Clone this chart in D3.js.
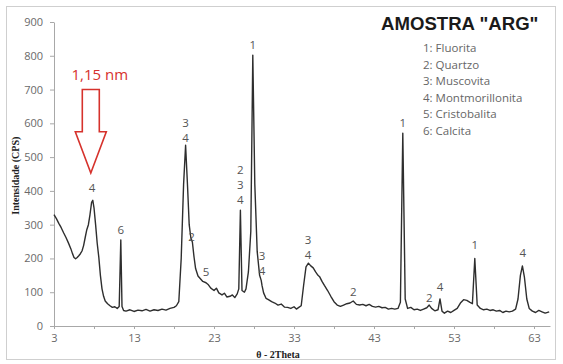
<!DOCTYPE html>
<html>
<head>
<meta charset="utf-8">
<script src="https://cdnjs.cloudflare.com/ajax/libs/d3/7.8.5/d3.min.js"></script>
<style>
    body { margin: 0; background: #fff; }
    svg { display: block; }
    .axis path, .axis line { stroke: #a8a8a8; }
    .axis text { fill: #6a6a6a; font-family: "Open Sans", sans-serif; font-size: 11px; }
    .trace { fill: none; stroke: #2e2e2e; stroke-width: 1.4; stroke-linejoin: round; }
    .peak { fill: #555; font-family: "Open Sans", sans-serif; font-size: 11.5px; text-anchor: middle; }
    .legend { fill: #666; font-family: "Open Sans", sans-serif; font-size: 11.5px; }
    .title { fill: #1a1a1a; font-family: "Liberation Sans", Arial, sans-serif; font-weight: bold; font-size: 18.6px; }
    .axis-title { fill: #222; font-family: "Liberation Serif", serif; font-weight: bold; font-size: 10px; }
</style>
</head>
<body>
<svg id="chart" width="563" height="364"></svg>
<script>
// difractograma - 2theta (graus) e intensidade (CPS)
var twoTheta = [
    3.0, 3.3, 3.6, 3.9, 4.2, 4.5, 4.8, 5.1, 5.3, 5.5, 5.7, 5.9, 6.1, 6.3, 6.5, 6.7, 6.9, 7.1, 7.3, 7.5,
    7.7, 7.85, 8.0, 8.2, 8.4, 8.6, 8.8, 9.0, 9.2, 9.4, 9.7, 10.0, 10.3, 10.6, 10.9, 11.15, 11.35, 11.5, 11.7, 12.0,
    12.5, 13.0, 13.5, 14.0, 14.5, 15.0, 15.5, 16.0, 16.5, 17.0, 17.5, 18.0, 18.3, 18.6, 18.9, 19.2, 19.45, 19.7, 19.9, 20.1,
    20.3, 20.5, 20.7, 21.0, 21.3, 21.6, 22.0, 22.3, 22.6, 23.0, 23.3, 23.6, 24.0, 24.3, 24.6, 25.0, 25.3, 25.6, 25.9, 26.1,
    26.3, 26.5, 26.8, 27.0, 27.3, 27.6, 27.85, 28.1, 28.4, 28.7, 28.9, 29.0, 29.2, 29.5, 29.8, 30.2, 30.6, 31.0, 31.4, 31.8,
    32.2, 32.6, 33.0, 33.3, 33.6, 33.9, 34.2, 34.5, 34.8, 35.1, 35.4, 35.7, 36.0, 36.2, 36.5, 36.8, 37.2, 37.6, 38.0, 38.4,
    38.8, 39.2, 39.6, 40.0, 40.4, 40.8, 41.2, 41.6, 42.0, 42.4, 42.8, 43.2, 43.6, 44.0, 44.4, 44.8, 45.2, 45.6, 46.0, 46.3,
    46.6, 46.9, 47.2, 47.6, 48.0, 48.4, 48.8, 49.2, 49.6, 49.9, 50.2, 50.6, 51.0, 51.25, 51.5, 51.8, 52.2, 52.6, 53.0, 53.4,
    53.8, 54.2, 54.6, 55.0, 55.3, 55.6, 55.9, 56.3, 56.7, 57.1, 57.5, 57.9, 58.3, 58.7, 59.1, 59.5, 59.9, 60.3, 60.7, 61.0,
    61.3, 61.55, 61.8, 62.1, 62.4, 62.8, 63.2, 63.6, 64.0, 64.4, 64.9
];

var intensity = [
    330, 318, 304, 291, 276, 262, 246, 229, 215, 203, 199, 203, 208, 214, 222, 238, 262, 285, 300, 330,
    366, 372, 350, 300, 245, 204, 150, 110, 88, 74, 66, 60, 55, 57, 52, 58, 255, 58, 46, 44,
    48, 43, 47, 45, 49, 44, 48, 46, 50, 47, 52, 55, 60, 72, 200, 420, 535, 410, 300, 262,
    248, 205, 170, 148, 140, 132, 128, 122, 112, 105, 112, 98, 92, 97, 86, 88, 92, 84, 95, 110,
    343, 105, 100, 110, 160, 280, 802, 420, 220, 150, 135, 120, 98, 82, 78, 72, 68, 62, 65, 56,
    55, 52, 57, 50, 55, 60, 120, 175, 186, 178, 172, 160, 150, 146, 132, 120, 105, 88, 72, 62,
    58, 62, 66, 68, 74, 64, 62, 64, 60, 64, 58, 56, 58, 54, 55, 50, 52, 50, 52, 70,
    571, 80, 52, 55, 48, 50, 46, 50, 54, 62, 52, 45, 48, 80, 44, 38, 44, 40, 46, 52,
    68, 78, 76, 70, 66, 200, 62, 52, 48, 50, 46, 48, 44, 46, 40, 44, 42, 44, 50, 80,
    150, 178, 145, 80, 52, 44, 40, 46, 42, 38, 42
];

// rótulos das fases sobre os picos
var labelTheta = [7.75, 11.35, 19.45, 20.2, 22.0, 26.3, 27.85, 29.0, 34.75, 40.4, 46.6, 49.9, 51.25, 55.6, 61.6];
var labelIntensity = [408, 284, 556, 263, 160, 373, 832, 163, 210, 101, 601, 83, 115, 240, 216];
var labelText = ["4", "6", "3\n4", "2", "5", "2\n3\n4", "1", "3\n4", "3\n4", "2", "1", "2", "4", "1", "4"];

var legendItems = ["1: Fluorita", "2: Quartzo", "3: Muscovita", "4: Montmorillonita", "5: Cristobalita", "6: Calcita"];

var xTicks = [3, 8, 13, 18, 23, 28, 33, 38, 43, 48, 53, 58, 63];
var xTickLabels = [3, 13, 23, 33, 43, 53, 63];
var yTicks = [0, 100, 200, 300, 400, 500, 600, 700, 800, 900];

var arrowTheta = 7.6
    , arrowTop = 700
    , arrowNeck = 575
    , arrowTip = 453
    , arrowText = "1,15 nm"
    ;

var svg = d3.select("#chart")
    , x = d3.scaleLinear().domain([3, 65]).range([54, 550])
    , y = d3.scaleLinear().domain([0, 900]).range([326, 22])
    ;

svg.append("rect")
    .attr("x", 6.5)
    .attr("y", 6.5)
    .attr("width", 549)
    .attr("height", 353)
    .attr("fill", "#fff")
    .attr("stroke", "#cfcfcf");

svg.append("g")
    .attr("class", "axis axis--x")
    .attr("transform", "translate(0," + y(0) + ")")
    .call(d3.axisBottom(x)
        .tickValues(xTicks)
        .tickSizeInner(3)
        .tickSizeOuter(0)
        .tickPadding(5)
        .tickFormat(function(d) { return xTickLabels.indexOf(d) >= 0 ? d : ""; }));

svg.append("g")
    .attr("class", "axis axis--y")
    .attr("transform", "translate(" + x(3) + ",0)")
    .call(d3.axisLeft(y)
        .tickValues(yTicks)
        .tickSizeInner(4)
        .tickSizeOuter(0)
        .tickPadding(7));

var points = twoTheta.map(function(t, i) { return [t, intensity[i]]; });

var line = d3.line()
    .x(function(d) { return x(d[0]); })
    .y(function(d) { return y(d[1]); });

svg.append("path")
    .attr("class", "trace")
    .attr("d", line(points));

// numeros sobre os picos, empilhados de baixo para cima
labelTheta.forEach(function(t, i) {
    var lines = labelText[i].split("\n");
    lines.forEach(function(s, j) {
        svg.append("text")
            .attr("class", "peak")
            .attr("x", x(t))
            .attr("y", y(labelIntensity[i]) + 4 - (lines.length - 1 - j) * 15)
            .text(s);
    });
});

svg.append("text")
    .attr("class", "title")
    .attr("x", 381)
    .attr("y", 30)
    .text('AMOSTRA "ARG"');

svg.append("g")
    .selectAll("text")
    .data(legendItems)
    .join("text")
    .attr("class", "legend")
    .attr("x", 423)
    .attr("y", function(d, i) { return 52 + i * 16.5; })
    .text(function(d) { return d; });

// seta vermelha com a distancia basal
var ax = x(arrowTheta);
svg.append("path")
    .attr("d", "M" + (ax - 8.5) + "," + y(arrowTop)
        + "H" + (ax + 8.5)
        + "V" + y(arrowNeck)
        + "H" + (ax + 15.5)
        + "L" + ax + "," + y(arrowTip)
        + "L" + (ax - 15.5) + "," + y(arrowNeck)
        + "H" + (ax - 8.5) + "Z")
    .attr("fill", "none")
    .attr("stroke", "#d6322c")
    .attr("stroke-width", 1.6);

svg.append("text")
    .attr("x", ax + 9)
    .attr("y", y(arrowTop) - 10)
    .attr("text-anchor", "middle")
    .attr("fill", "#d6322c")
    .style("font-family", "'Open Sans', sans-serif")
    .style("font-size", "15px")
    .text(arrowText);

svg.append("text")
    .attr("class", "axis-title")
    .attr("transform", "translate(19," + y(445) + ") rotate(-90)")
    .attr("text-anchor", "middle")
    .text("Intensidade (CPS)");

svg.append("text")
    .attr("class", "axis-title")
    .attr("x", x(31))
    .attr("y", 358)
    .attr("text-anchor", "middle")
    .text("θ - 2Theta");
</script>
</body>
</html>
